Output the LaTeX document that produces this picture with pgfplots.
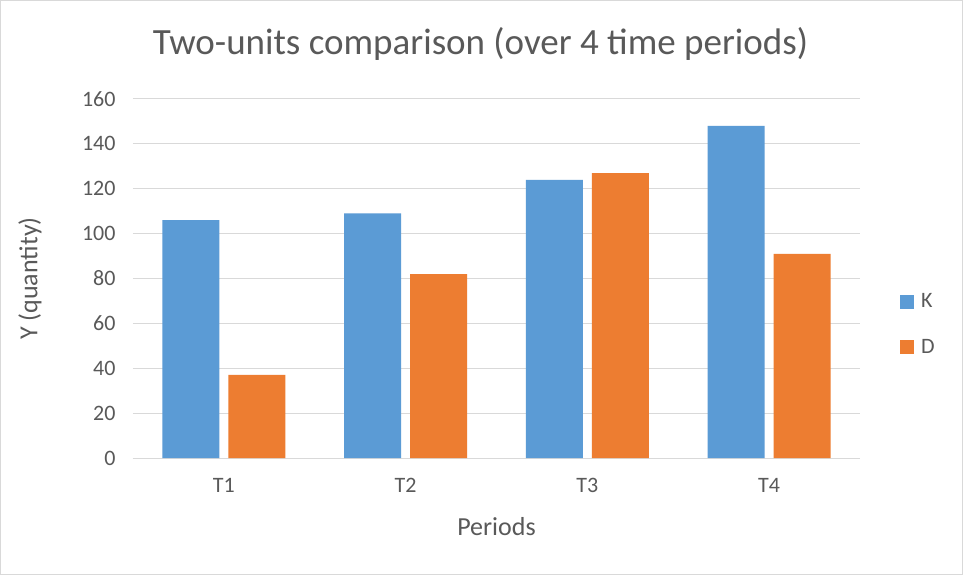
\documentclass[border=0pt]{standalone}
\usepackage{pgfplots}
\pgfplotsset{compat=1.18}
\usepackage{fontspec}
\setmainfont{Carlito}
\definecolor{kblue}{HTML}{5B9BD5}
\definecolor{dorange}{HTML}{ED7D31}
\definecolor{txt}{HTML}{595959}
\definecolor{gridc}{HTML}{D9D9D9}
\begin{document}
\begin{tikzpicture}
\fill[white] (-133pt,-117pt) rectangle (830pt,458pt);
\draw[gridc, line width=1pt] (-132.5pt,-116.5pt) rectangle (829.5pt,457.5pt);
\begin{axis}[
  scale only axis,
  width=727pt, height=359pt,
  ymin=0, ymax=160,
  xmin=-0.5, xmax=3.5,
  ytick={0,20,...,160},
  xtick=data,
  xticklabels={T1,T2,T3,T4},
  ybar=9pt, bar width=57pt,
  axis line style={draw=none},
  ymajorgrids, grid style={gridc, line width=1pt},
  major tick length=0pt,
  tick style={draw=none},
  /pgf/number format/assume math mode=true,
  ticklabel style={font=\fontsize{22}{26}\selectfont, text=txt},
  yticklabel style={xshift=-14pt},
  xticklabel style={yshift=-17pt},
  title={Two-units comparison (over 4 time periods)},
  title style={font=\fontsize{37}{44}\selectfont, text=txt, at={(0.5,1.1365)}, anchor=center, xshift=-16pt},
  xlabel={Periods},
  xlabel style={font=\fontsize{26}{31}\selectfont, text=txt, at={(0.5,-0.1922)}, anchor=center},
  ylabel={Y (quantity)},
  ylabel style={font=\fontsize{26}{31}\selectfont, text=txt, at={(-0.1417,0.5)}, anchor=center},
  legend style={at={(1,0.5)}, anchor=west, xshift=40pt, yshift=-46pt, draw=none, fill=none,
    font=\fontsize{22}{26}\selectfont, text=txt, row sep=26pt, inner sep=0pt},
  legend cell align=left,
  legend image code/.code={\fill[#1] (0pt,-7pt) rectangle (14pt,7pt); \path (19pt,0pt);},
]
\draw[gridc, line width=1pt] (axis cs:-0.5,0) -- (axis cs:3.5,0);
\addplot[fill=kblue, draw=none] coordinates {(0,106) (1,109) (2,124) (3,148)};
\addplot[fill=dorange, draw=none] coordinates {(0,37) (1,82) (2,127) (3,91)};
\legend{K,D}
\end{axis}
\end{tikzpicture}
\end{document}
